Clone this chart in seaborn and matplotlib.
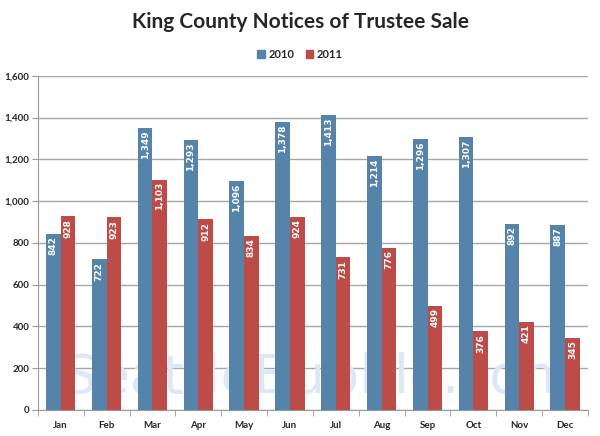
import pandas as pd
import matplotlib.pyplot as plt
import seaborn as sns

# data
months = ["Jan", "Feb", "Mar", "Apr", "May", "Jun", "Jul", "Aug", "Sep", "Oct", "Nov", "Dec"]
sales_2010 = [842, 722, 1349, 1293, 1096, 1378, 1413, 1214, 1296, 1307, 892, 887]
sales_2011 = [928, 923, 1103, 912, 834, 924, 731, 776, 499, 376, 421, 345]
years = ["2010", "2011"]
yticks = [0, 200, 400, 600, 800, 1000, 1200, 1400, 1600]

df = pd.DataFrame({
    "Month": months * 2,
    "Year": [years[0]] * 12 + [years[1]] * 12,
    "Count": sales_2010 + sales_2011,
})

sns.set_style("white")
plt.rcParams["font.family"] = ["Lato", "DejaVu Sans"]

fig = plt.figure(figsize=(6, 4.36), dpi=100)
ax = fig.add_axes([0.063, 0.06, 0.917, 0.766])

palette = {"2010": "#5583AA", "2011": "#BD4B48"}
sns.barplot(data=df, x="Month", y="Count", hue="Year", order=months,
            hue_order=years, palette=palette, width=0.64, ax=ax,
            saturation=1, zorder=3, legend=False, linewidth=0)

# value labels inside the top of each bar
for p in ax.patches:
    h = p.get_height()
    if h <= 0:
        continue
    ax.text(p.get_x() + p.get_width() / 2, h - 12, f"{int(round(h)):,}",
            rotation=90, ha="center", va="top", color="white",
            fontsize=6.5, fontweight="bold", zorder=4, family="DejaVu Sans")

# watermark
ax.text(0.51, 0.095, "SeattleBubble.com", transform=ax.transAxes, ha="center",
        va="center", fontsize=39, color="#dce8f6", zorder=1,
        family="DejaVu Sans")

ax.set_ylim(0, 1600)
ax.set_xlim(-0.5, 11.5)
ax.set_yticks(yticks)
ax.set_yticklabels([f"{v:,}" for v in yticks], fontsize=7, fontweight="bold")
ax.set_xticks(range(12))
ax.set_xticklabels(months, fontsize=7, fontweight="bold")
ax.tick_params(axis="x", length=0, pad=8)
ax.tick_params(axis="y", length=4, color="#999999", direction="out", left=True, pad=2)
ax.set_xticks([i - 0.5 for i in range(13)], minor=True)
ax.tick_params(axis="x", which="minor", length=4, color="#999999", direction="out", bottom=True)
ax.grid(axis="y", color="#a6a6a6", linewidth=1, zorder=0)
ax.set_axisbelow(True)
ax.set_xlabel("")
ax.set_ylabel("")
for s in ["top", "right"]:
    ax.spines[s].set_visible(False)
for s in ["left", "bottom"]:
    ax.spines[s].set_color("#999999")

fig.text(0.5, 0.95, "King County Notices of Trustee Sale", ha="center",
         va="center", fontsize=15, fontweight="bold")

handles = [plt.Rectangle((0, 0), 1, 1, color=palette[y]) for y in years]
fig.legend(handles, years, loc="center", bbox_to_anchor=(0.5, 0.876), ncol=2,
           frameon=False, prop={"size": 8, "weight": "bold"},
           handlelength=0.7, handleheight=0.7, handletextpad=0.3, columnspacing=1.0)

fig.savefig("out.png", dpi=100)
